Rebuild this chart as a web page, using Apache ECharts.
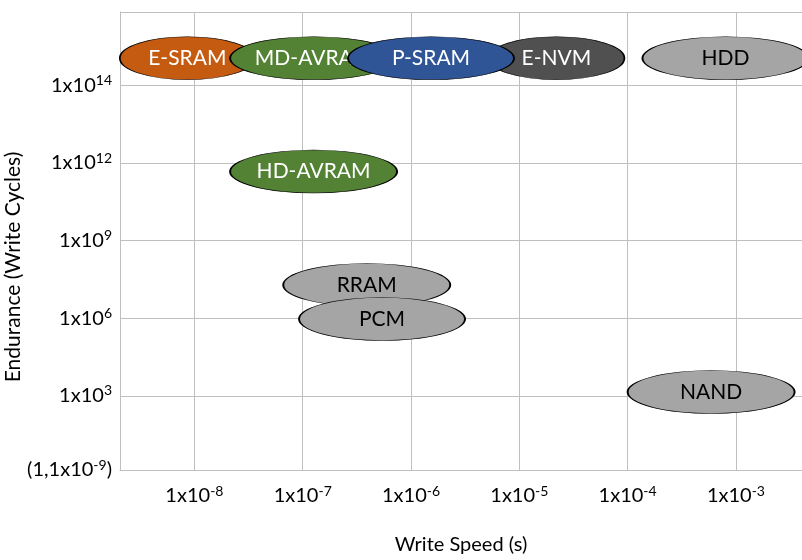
<!DOCTYPE html>
<html>
<head>
<meta charset="utf-8">
<script src="https://cdn.jsdelivr.net/npm/echarts@6/dist/echarts.min.js"></script>
<style>
html,body{margin:0;padding:0;background:#ffffff;}
#chart{width:802px;height:560px;}
</style>
</head>
<body>
<div id="chart"></div>
<script>
// ---- data ----
const technologies = ['E-SRAM', 'MD-AVRAM', 'E-NVM', 'P-SRAM', 'HDD', 'HD-AVRAM', 'RRAM', 'PCM', 'NAND'];
const writeSpeedSeconds = [8.6e-9, 1.26e-7, 2.2e-5, 1.53e-6, 8.0e-4, 1.26e-7, 3.9e-7, 5.4e-7, 5.9e-4];
const enduranceLevel = [5.35, 5.35, 5.35, 5.35, 5.35, 3.89, 2.43, 1.99, 1.05];

const xTickExponents = [-8, -7, -6, -5, -4, -3];
const xTickLabels = ['1x10{sup|-8}', '1x10{sup|-7}', '1x10{sup|-6}', '1x10{sup|-5}', '1x10{sup|-4}', '1x10{sup|-3}'];
const xRange = [-8.687, -2.39];

const yTickLevels = [0.046, 1, 2, 3, 4, 5];
const yTickLabels = ['(1,1x10{sup|-9})', '1x10{sup|3}', '1x10{sup|6}', '1x10{sup|9}', '1x10{sup|12}', '1x10{sup|14}'];
const yGridLevels = [1, 2, 3, 4, 5, 5.945];
const yRange = [0.046, 5.945];

// ---- styles ----
const FONT = 'Lato';
const GRID_COLOR = '#BFBFBF';
const fillColors = {
  'E-SRAM': '#C55A11', 'MD-AVRAM': '#548235', 'HD-AVRAM': '#548235',
  'P-SRAM': '#2F5597', 'E-NVM': '#505050',
  'HDD': '#A5A5A5', 'RRAM': '#A5A5A5', 'PCM': '#A5A5A5', 'NAND': '#A5A5A5'
};
const labelColors = {
  'E-SRAM': '#ffffff', 'MD-AVRAM': '#ffffff', 'HD-AVRAM': '#ffffff',
  'P-SRAM': '#ffffff', 'E-NVM': '#ffffff',
  'HDD': '#000000', 'RRAM': '#000000', 'PCM': '#000000', 'NAND': '#000000'
};
const ellipseSizes = {
  'E-SRAM': [135, 43], 'E-NVM': [136, 43],
  'MD-AVRAM': [167, 43], 'P-SRAM': [166, 43], 'HDD': [166, 43],
  'HD-AVRAM': [167, 43], 'RRAM': [167, 43], 'PCM': [166, 43], 'NAND': [167, 43]
};

const tickRich = {
  sup: { fontSize: 14, fontFamily: FONT, color: '#000', verticalAlign: 'top', lineHeight: 14 }
};

const series = technologies.map((name, i) => ({
  type: 'scatter',
  name: name,
  z: 2 + i,
  silent: true,
  clip: false,
  symbol: 'circle',
  symbolSize: ellipseSizes[name],
  data: [[Math.log10(writeSpeedSeconds[i]), enduranceLevel[i]]],
  itemStyle: { color: fillColors[name], borderColor: '#000000', borderWidth: 1, opacity: 1 },
  label: {
    show: true,
    position: 'inside',
    formatter: name,
    color: labelColors[name],
    fontSize: 21,
    fontFamily: FONT
  },
  emphasis: { disabled: true }
}));

const chart = echarts.init(document.getElementById('chart'), null, { renderer: 'canvas' });
chart.setOption({
  animation: false,
  backgroundColor: '#ffffff',
  grid: { left: 120, top: 12, width: 683, height: 462, containLabel: false },
  xAxis: {
    type: 'value',
    min: xRange[0],
    max: xRange[1],
    axisLine: { show: true, onZero: false, lineStyle: { color: GRID_COLOR, width: 1 } },
    axisTick: { show: false, customValues: xTickExponents },
    splitLine: { show: true, lineStyle: { color: GRID_COLOR, width: 1 } },
    axisLabel: {
      customValues: xTickExponents,
      formatter: v => xTickLabels[xTickExponents.indexOf(v)],
      fontSize: 20, fontFamily: FONT, color: '#000', lineHeight: 24,
      margin: 14,
      rich: tickRich
    },
    name: 'Write Speed (s)',
    nameLocation: 'middle',
    nameGap: 65,
    nameTextStyle: { fontSize: 20, fontFamily: FONT, color: '#000' }
  },
  yAxis: {
    type: 'value',
    min: yRange[0],
    max: yRange[1],
    axisLine: { show: true, onZero: false, lineStyle: { color: GRID_COLOR, width: 1 } },
    axisTick: { show: false, customValues: yGridLevels },
    splitLine: { show: true, lineStyle: { color: GRID_COLOR, width: 1 } },
    axisLabel: {
      customValues: yTickLevels,
      formatter: v => yTickLabels[yTickLevels.indexOf(v)],
      fontSize: 20, fontFamily: FONT, color: '#000', lineHeight: 24,
      margin: 8,
      rich: tickRich
    }
  },
  graphic: [{
    type: 'text',
    x: 13, y: 267,
    rotation: Math.PI / 2,
    silent: true,
    style: {
      text: 'Endurance (Write Cycles)',
      fontSize: 21, fontFamily: FONT, fill: '#000',
      align: 'center', verticalAlign: 'middle'
    }
  }],
  series: series
});
</script>
</body>
</html>
